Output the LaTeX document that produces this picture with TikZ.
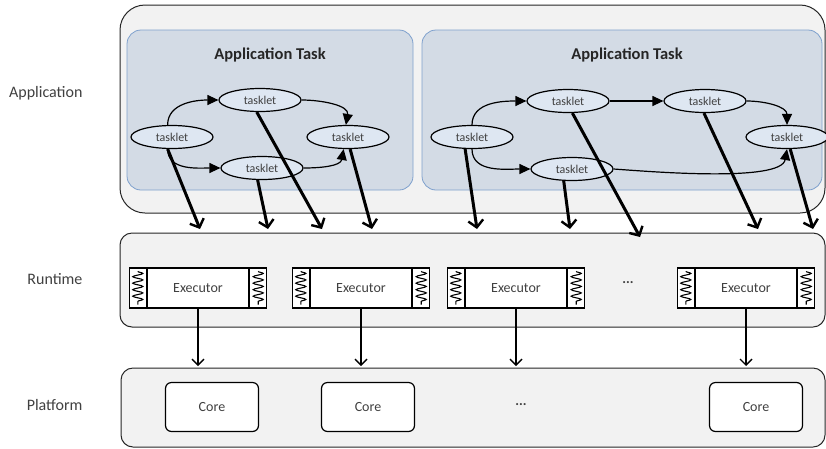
\documentclass[tikz,border=0pt]{standalone}
\usepackage{fontspec}
\setmainfont{Carlito}
\usetikzlibrary{shapes, arrows.meta, positioning, decorations.pathmorphing}
\definecolor{layerfill}{RGB}{242,242,242}
\definecolor{taskfill}{RGB}{211,219,229}
\definecolor{taskline}{RGB}{126,160,205}
\definecolor{taskletfill}{RGB}{222,231,242}
\definecolor{txt}{RGB}{64,64,64}
\tikzset{layer/.style={draw=black!85, fill=layerfill, line width=1pt}}
\tikzset{apptask/.style={draw=taskline, fill=taskfill, line width=0.8pt, rounded corners=14pt}}
\tikzset{tasklet/.style={ellipse, draw, line width=1.2pt, fill=taskletfill, minimum width=82pt, minimum height=23pt, inner sep=0pt, font=\fontsize{12}{12}\selectfont, text=txt}}
\tikzset{executor/.style={rectangle, draw, line width=1.2pt, fill=white, minimum width=101pt, minimum height=40pt, font=\fontsize{14}{14}\selectfont, text=txt}}
\tikzset{queue/.style={rectangle, draw, line width=1.2pt, fill=white, minimum width=17pt, minimum height=40pt, inner sep=0pt}}
\tikzset{coil/.style={decorate, decoration={snake, amplitude=5pt, segment length=6.5pt}, line width=1.1pt}}
\tikzset{core/.style={rectangle, draw, line width=1.2pt, fill=white, rounded corners=6pt, minimum width=93pt, minimum height=49pt, font=\fontsize{14}{14}\selectfont, text=txt}}
\tikzset{flow/.style={-{Triangle[length=11pt,width=10pt]}, line width=1.2pt}}
\tikzset{mapto/.style={-{Straight Barb[length=7pt,width=15pt,line width=2.4pt]}, line width=3pt}}
\tikzset{link/.style={-{Straight Barb[length=6pt,width=12pt]}, line width=1.4pt}}
\tikzset{lbl/.style={anchor=base east, font=\fontsize{16}{16}\selectfont, text=txt}}

\begin{document}
\begin{tikzpicture}[x=1pt, y=-1pt]
    \useasboundingbox (0,0) rectangle (826,448);

    % layers
    \draw[layer, rounded corners=25pt] (120,5) rectangle (825,213);
    \draw[layer, rounded corners=12pt] (120,233) rectangle (825,327);
    \draw[layer, rounded corners=12pt] (121,368) rectangle (825,447);
    \node[lbl] (lapp) at (86,97) {Application};
    \node[lbl] (lrun) at (86,284) {Runtime};
    \node[lbl] (lplat) at (86,410) {Platform};

    % application tasks
    \draw[apptask] (127,30) rectangle (413,190);
    \draw[apptask] (422,30) rectangle (822,190);
    \node[font=\bfseries\fontsize{16.5}{16.5}\selectfont, text=black!85] (tk1) at (270,55) {Application Task};
    \node[font=\bfseries\fontsize{16.5}{16.5}\selectfont, text=black!85] (tk2) at (627,55) {Application Task};

    \node[tasklet] (t1) at (172,137) {tasklet};
    \node[tasklet] (t2) at (260,100) {tasklet};
    \node[tasklet] (t3) at (262,168) {tasklet};
    \node[tasklet] (t4) at (348,137) {tasklet};
    \draw[flow] (t1.110) to[out=90, in=180] (t2.west);
    \draw[flow] (t1.250) to[out=-90, in=180] (t3.west);
    \draw[flow] (t2.east) to[out=0, in=80] (t4.100);
    \draw[flow] (t3.east) to[out=0, in=-100] (t4.250);

    \node[tasklet] (r1) at (472,137) {tasklet};
    \node[tasklet] (r2) at (568,101) {tasklet};
    \node[tasklet] (r3) at (705,101) {tasklet};
    \node[tasklet] (r4) at (787,137) {tasklet};
    \node[tasklet] (r5) at (572,169) {tasklet};
    \draw[flow] (r1.north) to[out=90, in=180] (r2.west);
    \draw[flow] (r1.south) to[out=-90, in=180] (r5.west);
    \draw[flow] (r2.east) -- (r3.west);
    \draw[flow] (r3.east) to[out=0, in=90] (r4.north);
    \draw[flow] (r5.east) to[out=-4, in=-100, looseness=0.5] (r4.south);

    % tasklets mapped onto executors
    \coordinate (a1) at (200,229);
    \coordinate (a2) at (268,229);
    \coordinate (a3) at (322,229);
    \coordinate (a4) at (372,229);
    \coordinate (b1) at (477,229);
    \coordinate (b2) at (570,229);
    \coordinate (b3) at (640,237);
    \coordinate (b4) at (758,229);
    \coordinate (b5) at (813,229);
    \draw[mapto] (t1.250) -- (a1);
    \draw[mapto] (t3.250) -- (a2);
    \draw[mapto] (t2.255) -- (a3);
    \draw[mapto] (t4.280) -- (a4);
    \draw[mapto] (r1.240) -- (b1);
    \draw[mapto] (r5.235) -- (b2);
    \draw[mapto] (r2.290) -- (b3);
    \draw[mapto] (r3.265) -- (b4);
    \draw[mapto] (r4.285) -- (b5);

    % executors
    \foreach \n/\x in {1/198, 2/361, 3/516, 4/746} {
        \node[executor] (e\n) at (\x,288) {Executor};
        \node[queue, left=0pt of e\n] (e\n-l) {};
        \node[queue, right=0pt of e\n] (e\n-r) {};
        \foreach \s in {l, r}
            \draw[coil] ([yshift=-4pt]e\n-\s.north) -- ([yshift=4pt]e\n-\s.south);
        \coordinate (p\n) at (\x,366);
        \draw[link] (e\n.south) -- (p\n);
    }
    \node[text=txt, font=\bfseries\fontsize{14}{14}\selectfont] (rdots) at (628,283) {...};

    % cores
    \node[core] (c1) at (212,407) {Core};
    \node[core] (c2) at (368,407) {Core};
    \node[core] (c3) at (756,407) {Core};
    \node[text=txt, font=\bfseries\fontsize{14}{14}\selectfont] (pdots) at (521,405) {...};
\end{tikzpicture}
\end{document}
